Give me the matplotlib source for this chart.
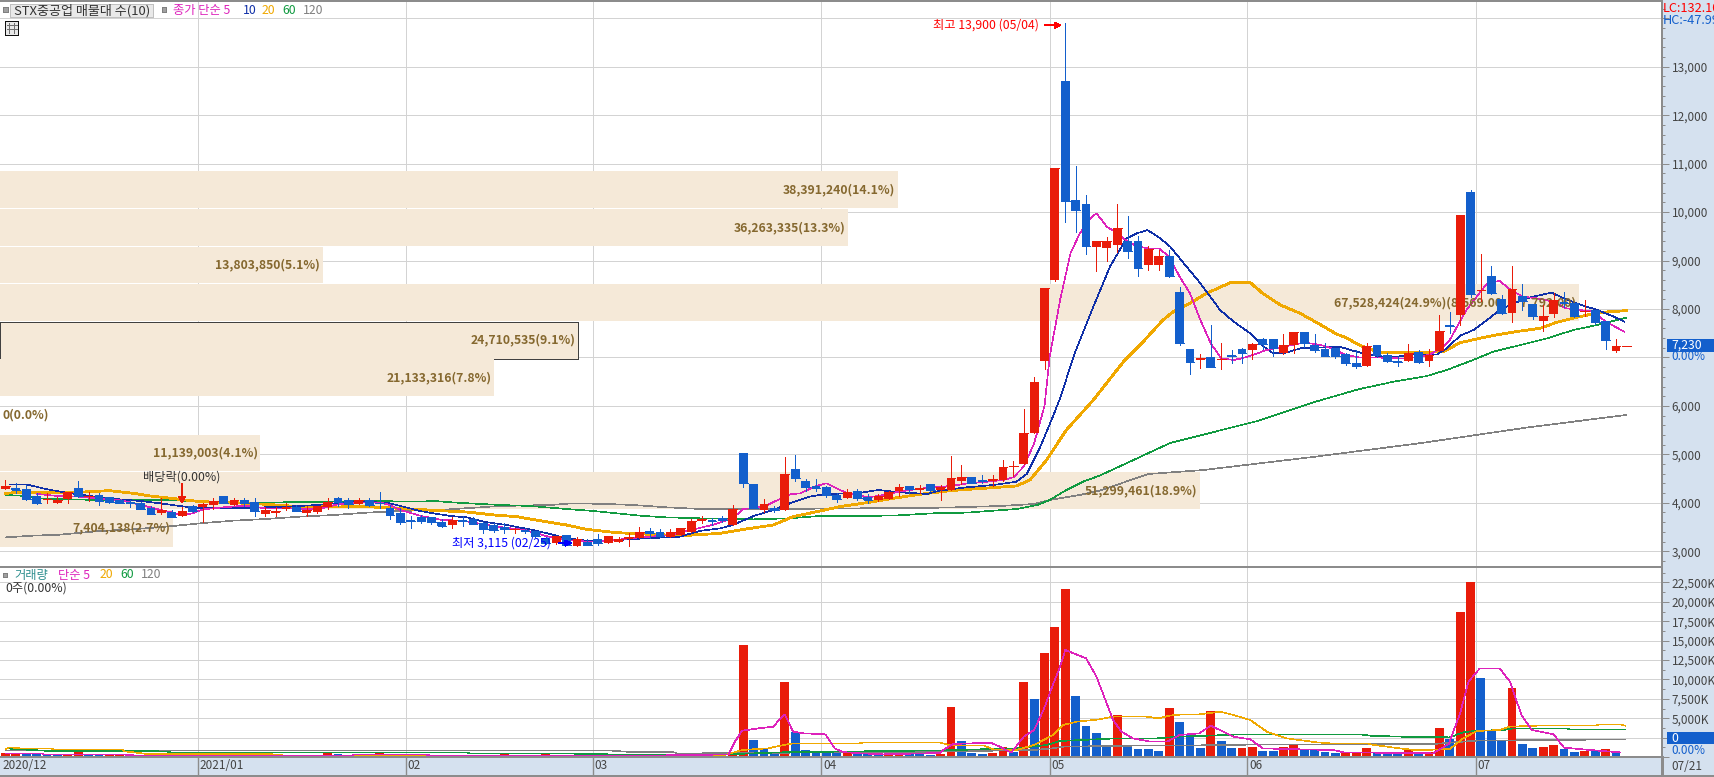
import matplotlib
matplotlib.use("Agg")
import matplotlib.pyplot as plt
from matplotlib.lines import Line2D
from matplotlib.patches import Rectangle
from matplotlib.transforms import ScaledTranslation

plt.rcParams["font.family"] = ["Noto Sans CJK KR", "DejaVu Sans"]
plt.rcParams["lines.antialiased"] = False
plt.rcParams["patch.antialiased"] = False

# candles
opens = [4285,4313,4278,4141,4072,4003,4079,4299,4127,4154,
         4113,4058,4024,3989,3893,3790,3810,3735,3934,3913,
         3955,4134,3962,4058,4024,3776,3797,3879,3913,3797,
         3810,3920,4099,4058,3982,4058,4003,3886,3783,3645,
         3707,3700,3611,3549,3645,3666,3583,3542,3494,3432,
         3446,3418,3267,3164,3329,3115,3198,3246,3178,3198,
         3260,3281,3411,3398,3301,3343,3405,3632,3639,3693,
         3549,5028,4388,3859,3886,3852,4698,4450,4347,4326,
         4161,4106,4244,4120,4058,4086,4244,4347,4258,4388,
         4264,4271,4450,4533,4464,4443,4478,4746,4801,5441,
         6934,8599,12706,10250,10167,9280,9259,9321,9404,9404,
         8908,8908,9094,8351,7175,6948,7010,6954,7051,7175,
         7154,7381,7381,7092,7257,7518,7257,7174,7202,7071,
         6879,6830,7257,7051,6927,6934,7119,6934,7133,7670,
         7883,10415,8385,8681,8206,7924,8268,8103,7759,7897,
         8151,8124,7945,7973,7746,7133,7230]
highs = [4471,4402,4368,4209,4196,4127,4223,4450,4230,4196,
         4127,4079,4058,4024,3934,4092,3852,3907,3955,4003,
         4092,4134,4106,4106,4106,3920,3920,3989,3955,3941,
         3927,4092,4120,4099,4092,4092,4223,3955,3886,3728,
         3749,3714,3659,3700,3728,3700,3611,3577,3577,3487,
         3473,3418,3301,3315,3329,3295,3246,3350,3315,3301,
         3370,3494,3473,3453,3453,3480,3659,3728,3680,3735,
         3955,5028,4388,4072,3934,4939,4987,4492,4492,4347,
         4196,4278,4285,4175,4175,4251,4388,4347,4368,4388,
         4368,4966,4780,4533,4574,4574,4884,4863,5936,6597,
         8434,10910,13900,10952,10353,9404,9486,10167,9920,9507,
         9301,9218,9218,8454,7175,7072,7670,7298,7154,7195,
         7298,7402,7381,7484,7526,7518,7484,7291,7202,7099,
         7154,7291,7257,7085,7016,7278,7154,7174,7876,7931,
         9940,10456,9128,8888,8289,8888,8516,8103,8083,8323,
         8351,8124,8186,7979,7746,7381,7230]
lows = [4285,4209,4058,3975,4003,3989,4003,4127,4044,3955,
        4003,3989,3907,3865,3769,3769,3700,3735,3810,3611,
        3872,3989,3955,3941,3735,3735,3735,3845,3824,3735,
        3783,3872,3941,3900,3982,3941,3886,3673,3570,3487,
        3590,3563,3508,3487,3522,3556,3384,3405,3370,3370,
        3370,3301,3150,3150,3130,3115,3120,3130,3164,3184,
        3116,3267,3267,3301,3288,3329,3405,3590,3542,3611,
        3542,4320,3886,3817,3817,3852,4450,4250,4236,4113,
        4024,4106,4058,3989,4044,4079,4141,4209,4196,4251,
        4058,4271,4388,4402,4416,4347,4457,4553,4801,5441,
        6755,8578,9803,9596,9135,8791,9000,9177,9053,8681,
        8805,8805,8661,7257,6658,6782,6803,6762,6885,6885,
        6968,7175,7030,7072,7092,7223,7120,7037,6996,6844,
        6789,6830,7003,6899,6830,6934,6892,6830,7133,7498,
        7670,8241,8172,8310,7897,7739,7979,7794,7546,7842,
        8048,7828,7862,7690,7174,7119,7230]
closes = [4354,4264,4079,4003,4086,4058,4223,4141,4141,4044,
          4024,4003,3989,3872,3776,3852,3707,3824,3824,3975,
          4044,3989,4058,4003,3838,3852,3824,3920,3838,3845,
          3927,4024,4024,3982,4051,3962,3989,3755,3604,3618,
          3625,3604,3522,3645,3625,3570,3467,3439,3460,3453,
          3411,3315,3164,3315,3130,3260,3130,3164,3315,3253,
          3288,3398,3370,3315,3398,3480,3625,3673,3618,3645,
          3866,4416,3900,3976,3852,4595,4519,4333,4313,4161,
          4079,4216,4099,4058,4141,4223,4326,4285,4306,4264,
          4326,4512,4533,4409,4443,4485,4739,4760,5441,6494,
          8434,10910,10229,10044,9301,9404,9404,9672,9197,8846,
          9239,9094,8681,7298,6906,6989,6803,6975,7030,7092,
          7278,7278,7195,7257,7526,7291,7154,7037,7030,6892,
          6830,7236,7058,6927,6899,7099,6913,7044,7546,7649,
          9940,8310,8399,8337,7917,8413,8172,7862,7856,8179,
          8117,7862,7966,7739,7367,7236,7230]

# traded volume in thousands, and bar colour per day
volumes = [515,430,430,430,258,258,258,690,258,258,
           258,258,170,170,170,170,130,130,215,215,
           215,170,215,215,258,170,170,130,130,130,
           130,560,344,130,170,170,560,170,170,170,
           130,130,130,130,130,130,130,130,430,130,
           130,130,430,170,170,170,130,130,170,130,
           130,386,130,130,130,170,170,130,130,130,
           644,14431,2190,1030,558,9664,3221,902,687,687,
           515,687,387,430,430,300,644,430,430,258,
           387,6442,2062,515,387,515,1288,687,9664,7473,
           13400,16750,21647,7860,3994,3092,1546,5412,1288,1030,
           1030,773,6314,4510,2964,1160,5927,2062,1160,1160,
           1288,773,773,1288,1546,945,945,644,515,558,
           558,1160,558,558,387,902,473,644,3737,2319,
           18683,22549,10179,3350,2062,8891,1675,1160,1288,1546,
           1030,644,773,773,1030,644,0]
volume_dirs = ("RRBBBBRRBB" "RRRRRRBBRR" "RBRRRBRRBR" "BRBBRBRBBB" "BBRRBBRBRB"
               "RRRBBRBBRB" "RRBBBRRBBR" "RRBBBRBBBB" "BRBBBRRBBB" "RRBBBRRBRB"
               "RRRBBBBRBB" "BBRBBBRBBR" "RBBRRBBBBR" "RRBBBRBRRB" "RRBBBRBBRR"
               "BBRBRBR")

# price moving averages: day position and value
ma5_idx = [3,5,7,9,11,13,15,17,18,19,21,23,25,27,30,32,34,36,37,38,40,42,44,46,48,50,52,54,56,58,60,62,64,66,68,70,71,73,74,75.5,76.5,78,79,80,81,82,83,84,86,88,90,91,92.6,94.5,96,97,98,99,100,100.5,101.5,102.5,103.4,104.4,105,106,107,108,109,110,111,112,113,114,115,116,117,118.2,119,120,121.4,123,125,126,127,128,129,130.4,132.3,134,135,137,138.4,139,139.7,140.6,141.6,142.6,143.8,144.8,146,147.4,149,150.2,151.5,152.8,154,155.8]
ma5_val = [4182,4141,4127,4085,4058,3955,3852,3749,3783,3865,3907,3941,3886,3886,3865,3968,4010,4010,3955,3852,3728,3645,3632,3556,3487,3439,3315,3233,3198,3212,3267,3301,3336,3439,3542,3680,3872,3920,4024,4175,4196,4347,4402,4299,4196,4168,4113,4141,4230,4292,4333,4347,4402,4436,4471,4526,4746,5228,6000,7016,8186,9149,9562,9872,9975,9700,9562,9390,9287,9252,9252,9080,8668,8324,7773,7292,6982,6948,6982,7051,7154,7223,7305,7278,7236,7154,7051,6996,6996,6982,6982,7051,7223,7360,7635,7979,8255,8530,8578,8406,8255,8220,8151,8014,7979,7945,7739,7532]
ma10_idx = [0.4,2,4,5.9,8.1,10,11.7,13,14.9,16.8,18.7,21.3,23.9,27,30,31.6,34.8,37,38.9,39.9,41.2,42.8,44.4,46,48.2,50.8,52.4,54,55.9,57.9,60.4,63,64.9,66.8,68.8,70,72,73.9,75.5,77.4,78.9,81.9,84,86.1,88.7,89.9,92.5,95.1,97.3,98.3,99.6,100.8,101.5,102.9,104.7,106.3,107.9,108.9,109.9,111,112.1,113.4,115,116.9,118.2,119.8,121.1,122,123.3,124.6,128.4,130,132.3,133.9,135.5,137.8,138.7,140,141.3,142.6,143.8,145.1,147,148.8,150,151.2,153.2,154.8,155.8]
ma10_val = [4381,4381,4278,4209,4141,4092,4058,4037,3989,3934,3886,3893,3900,3920,3955,3989,4024,3989,3886,3831,3783,3728,3700,3611,3542,3439,3356,3267,3219,3212,3253,3281,3301,3418,3473,3542,3728,3852,3989,4127,4182,4196,4264,4216,4182,4251,4319,4368,4436,4595,5159,5778,6156,7085,8048,8874,9459,9562,9631,9479,9287,8943,8530,7979,7739,7498,7223,7085,7099,7188,7223,7119,7016,7016,7064,7064,7188,7450,7567,7773,7979,8117,8255,8337,8220,8117,7979,7842,7739]
ma20_idx = [0,1.4,4.3,7.5,10,12.3,13.9,16.5,18.7,21.9,25.1,28.3,31.6,33.8,36.4,38.9,41.8,44.4,47,49.2,51.4,54,55.9,58.8,62,65.2,68.8,71.7,73.9,75.8,78.1,80.3,82.9,85.4,88,90.9,94.1,97.3,98.6,100.2,102.1,104.7,107.6,109.5,111.4,112.4,113.7,115.6,117.9,119.8,121,122.7,124.6,126.5,128.1,129,130.5,132.3,136,138.4,139,140,141.9,143.8,145.8,147.7,149.3,151.5,153.5,156]
ma20_val = [4196,4216,4216,4223,4251,4196,4141,4079,4024,4003,3969,3920,3913,3920,3907,3872,3838,3810,3749,3714,3632,3542,3453,3384,3350,3322,3370,3473,3542,3714,3817,3920,4003,4092,4175,4251,4299,4347,4471,4884,5503,6122,6913,7326,7773,7945,8083,8324,8544,8544,8324,8083,7911,7684,7484,7408,7236,7099,7099,7119,7188,7305,7395,7477,7546,7601,7725,7842,7931,7966]
ma60_idx = [0,1.4,3.3,5.9,9.1,12.3,15.5,18.7,21.9,26.7,31.6,34.8,39.9,41.2,43.4,47.6,50.5,52.4,54,56.6,58.8,61.4,63.6,66.8,72,75.5,78.4,85.4,89.3,92.5,97.3,99.3,100.5,102.1,103.7,105.3,112.1,120.5,125.8,130.2,133.6,136.8,138.7,141,143.2,145.8,148.4,150.9,153.2,156]
ma60_val = [4161,4147,4092,4072,4058,4065,4058,4024,4003,4010,4024,4037,4024,4038,4003,3955,3934,3900,3872,3831,3783,3728,3700,3680,3659,3680,3728,3735,3783,3797,3872,3955,4058,4264,4436,4560,5235,5689,6069,6342,6500,6617,6741,6927,7119,7257,7395,7567,7670,7821]
ma120_idx = [0,2.7,5.2,9.1,12.3,15.5,18.7,21.9,25.1,28.3,31.6,34.8,38,41.8,47.6,52.4,54.6,57.9,60.4,63.6,67.5,72,78.1,90.3,95.7,99,100.5,103.4,105.3,110,115.3,125.8,136.3,146.8,156]
ma120_val = [3287,3322,3342,3418,3453,3508,3576,3631,3666,3714,3748,3797,3831,3852,3934,3955,3989,3976,3955,3907,3866,3866,3879,3900,3934,3975,4058,4161,4251,4594,4677,4945,5235,5565,5812]

# volume moving averages
vma5_idx = [0,3.5,3.6,11.5,12.3,33.4,33.5,40.5,41,60,66.8,69.6,70.2,70.9,72.5,73.9,74.6,75,75.8,76.8,78.9,79.8,80.6,82.2,84.5,89.9,90.4,91.2,94.8,95.7,96.8,98,99,99.9,100.8,101.5,102,104,105,105.8,106.6,107.4,108.5,110.2,111.8,113,114.9,116,118.2,119.8,121,123,127.8,128.8,137.4,138.9,140,140.8,141.9,143.8,144.8,145.9,146.9,149,150,152.5,155.4]
vma5_val = [472,472,344,300,215,215,344,300,172,172,258,344,1976,3393,3694,3908,4982,5498,3264,3049,2921,1117,644,472,344,515,1031,1675,1847,1331,558,2620,3479,6056,9277,11639,13787,12713,10351,7559,4767,3264,2405,1976,1976,2835,3049,4037,2620,2276,1117,1031,902,601,472,1675,5626,9707,11425,11425,9707,5412,3479,2921,1203,902,601]
vma20_idx = [0,0.4,1.4,4.3,4.6,11.2,11.4,12.3,13.6,26.4,26.7,47.6,58,69,70.9,73.4,74.6,75.8,82.2,82.6,89.9,90.9,94.1,95.1,97.3,99,100.8,101.8,103.1,105.3,106.6,109.8,111,112,113.3,114.9,116.9,118.2,119.8,121.4,123.3,126.2,127.5,131,131.7,134.2,135.8,139,140.3,141.6,143.8,144.8,147.4,153,153.4,155.4,155.9]
vma20_val = [988,1246,1117,1117,988,988,730,601,387,344,172,172,172,172,902,1117,1460,1761,1761,1890,1890,1503,1503,988,902,1546,2835,4123,4553,4853,5197,5197,4982,5326,5498,5498,5841,5412,4767,3264,2405,1890,1761,1761,1546,1117,859,1031,2405,3350,3479,3908,4037,4037,4209,4209,4037]
vma60_idx = [0,1.4,4.3,15.5,15.9,44.4,44.7,53,58,66.8,70.4,74.6,90.3,97.3,100.2,101.5,106.3,110.8,113,114.9,119.1,130.4,131.3,134.2,139,140.3,141.6,144.2,145.1,150.3,150.5,155.9]
vma60_val = [1117,988,773,730,601,601,472,472,344,172,387,601,859,1117,1546,2062,2362,2405,2620,2706,2921,2921,2749,2620,2534,3178,3393,3479,3694,3694,3565,3565]
vma120_idx = [0,47.6,58,59.6,64.5,64.6,66.8,89.3,99,100.8,101.8,108.5,114.9,119.5,137.4,140.3,141.6,155.9]
vma120_val = [859,816,860,687,600,472,472,687,902,1117,1331,1460,1503,1589,1675,1976,2105,2276]

# volume profile rows, top to bottom
vp_volumes = [38391240,36263335,13803850,67528424,24710535,21133316,0,11139003,51299461,7404138]
vp_labels = ["38,391,240(14.1%)","36,263,335(13.3%)","13,803,850(5.1%)",
             "67,528,424(24.9%)(8,569.00  ~  7,792.00)","24,710,535(9.1%)","21,133,316(7.8%)",
             "0(0.0%)","11,139,003(4.1%)","51,299,461(18.9%)","7,404,138(2.7%)"]
vp_top = 10849
vp_step = 776.1

price_ticks = list(range(3000, 14001, 1000))
volume_ticks = list(range(0, 22501, 2500))
month_starts = [0, 19, 39, 57, 79, 101, 120, 142]
month_labels = ["2020/12", "2021/01", "02", "03", "04", "05", "06", "07"]

W, H = 1715, 777
RED = "#E91C0A"
BLUE = "#135FCC"
BAND = "#D5E1EF"
GRID = "#D3D3D3"
EDGE = "#8C8C8C"
PX = 0.72
THIN = 0.45

def fx(x):
    return x / W

def fy(y):
    return 1 - y / H

def box(left, top, right, bottom):
    return [fx(left), fy(bottom), (right - left) / W, (bottom - top) / H]

def fig_text(x, y, s, color="#333333", size=9, **kw):
    fig.text(fx(x), fy(y), s, color=color, fontsize=size, va="center", zorder=8, **kw)

def fig_rect(left, top, right, bottom, face, edge="none", z=6):
    fig.add_artist(Rectangle((fx(left), fy(bottom)), (right - left) / W, (bottom - top) / H,
                             transform=fig.transFigure, facecolor=face, edgecolor=edge,
                             linewidth=PX, zorder=z))

fig = plt.figure(figsize=(W / 100, H / 100), dpi=100, facecolor=BAND)
ax = fig.add_axes(box(0, 1, 1662, 567))
axv = fig.add_axes(box(0, 567, 1662, 757))

xmin, xmax = -0.529, 159.43
for a in (ax, axv):
    a.set_xlim(xmin, xmax)
    a.set_facecolor("white")
    a.set_axisbelow(True)
    a.grid(True, color=GRID, linewidth=PX)
    for s in a.spines.values():
        s.set_color(EDGE)
        s.set_linewidth(1.1)
    a.spines["left"].set_visible(False)
    a.yaxis.tick_right()
    a.set_xticks([m - 0.5 for m in month_starts])
    a.get_xgridlines()[0].set_visible(False)
    a.tick_params(axis="y", which="major", length=5, width=PX, color=EDGE, pad=2,
                  labelcolor="#444444", labelsize=8.5)
    a.tick_params(axis="y", which="minor", length=2, width=PX, color=EDGE)

# 7,000 and 2,500K sit under the read-outs on the right axis
ax.set_ylim(2675, 14357)
ax.set_yticks(price_ticks)
ax.set_yticks(range(2800, 14300, 200), minor=True)
ax.set_yticklabels([f"{t:,}" if t not in (7000, 14000) else "" for t in price_ticks])
ax.tick_params(axis="x", length=0, labelbottom=False)

axv.set_ylim(0, 24485)
axv.set_yticks(volume_ticks)
axv.set_yticks(range(0, 24000, 1250), minor=True)
axv.set_yticklabels([f"{t:,}K" if t not in (0, 2500) else "" for t in volume_ticks])
axv.set_xticklabels(month_labels, ha="left", color="#444444", fontsize=8.5)
axv.tick_params(axis="x", length=14, width=1, color=EDGE, pad=-12.5)
axv.xaxis.get_major_ticks()[0].tick1line.set_visible(False)
shift = ScaledTranslation(2 / 100, 0, fig.dpi_scale_trans)
for lbl in axv.get_xticklabels():
    lbl.set_transform(lbl.get_transform() + shift)

# volume profile
vp_scale = (1579 / 10.39) / 67528424
for i, (vol, label) in enumerate(zip(vp_volumes, vp_labels)):
    mid = vp_top - vp_step * (i + 0.5)
    width = vol * vp_scale
    edge = "#404040" if i == 4 else "none"
    ax.barh(mid, width, left=xmin, height=vp_step * 0.975, color="#F5E9D8",
            edgecolor=edge, linewidth=PX, zorder=1)
    if vol:
        ax.text(xmin + width - 0.25, mid, label, ha="right", va="center", fontsize=8.8,
                color="#85682F", fontweight="bold", zorder=2.5)
    else:
        ax.text(xmin + 0.2, mid, label, ha="left", va="center", fontsize=8.8,
                color="#85682F", fontweight="bold", zorder=2.5)

# price moving averages
ax.plot(ma120_idx, ma120_val, color="#808080", lw=THIN, zorder=2)
ax.plot(ma60_idx, ma60_val, color="#109A40", lw=THIN, zorder=2)
ax.plot(ma20_idx, ma20_val, color="#F0A800", lw=1.3, zorder=2)
ax.plot(ma10_idx, ma10_val, color="#1030A8", lw=THIN, zorder=2)
ax.plot(ma5_idx, ma5_val, color="#DD22BB", lw=THIN, zorder=2)

# candles
idx = list(range(len(opens)))
cols = [RED if c >= o else BLUE for o, c in zip(opens, closes)]
ax.vlines(idx, lows, highs, colors=cols, linewidth=0.6, zorder=3)
ax.bar(idx, [abs(c - o) for o, c in zip(opens, closes)], bottom=[min(o, c) for o, c in zip(opens, closes)],
       width=0.85, color=cols, linewidth=0, zorder=3)
ax.hlines(closes, [i - 0.42 for i in idx], [i + 0.42 for i in idx], colors=cols, linewidth=0.6, zorder=3)

# annotations on the price panel
ax.text(99.5, 13860, "최고 13,900 (05/04)", color="#FF0000", ha="right", va="center", fontsize=8.8, zorder=5)
ax.annotate("", xy=(101.6, 13860), xytext=(100, 13860), zorder=5,
            arrowprops=dict(arrowstyle="-|>", color="#FF0000", lw=0.8, shrinkA=0, shrinkB=0, mutation_scale=9))
ax.text(52.5, 3170, "최저 3,115 (02/25)", color="#0000FF", ha="right", va="center", fontsize=8.8, zorder=5)
ax.annotate("", xy=(54.5, 3170), xytext=(53.3, 3170), zorder=5,
            arrowprops=dict(arrowstyle="-|>", color="#0000FF", lw=0.8, shrinkA=0, shrinkB=0, mutation_scale=9))
ax.text(17, 4540, "배당락(0.00%)", color="#333333", ha="center", va="center", fontsize=8.8, zorder=5)
ax.annotate("", xy=(17, 3985), xytext=(17, 4380), zorder=5,
            arrowprops=dict(arrowstyle="-|>", color=RED, lw=0.8, shrinkA=0, shrinkB=0, mutation_scale=10))

# volume bars and averages
axv.bar(idx, volumes, width=0.85, color=[RED if d == "R" else BLUE for d in volume_dirs], linewidth=0, zorder=2)
axv.plot(vma120_idx, vma120_val, color="#808080", lw=THIN, zorder=3)
axv.plot(vma60_idx, vma60_val, color="#109A40", lw=THIN, zorder=3)
axv.plot(vma20_idx, vma20_val, color="#F0A800", lw=THIN, zorder=3)
axv.plot(vma5_idx, vma5_val, color="#DD22BB", lw=THIN, zorder=3)

# header legends
fig_rect(3, 7, 8, 12, "#A0A0A0", "#808080")
fig_rect(10.5, 3.5, 153.5, 17, "#E9E9E9", "#C0C0C0")
fig_text(14, 10.5, "STX중공업 매물대 수(10)", size=9.4)
fig_rect(162, 7, 166, 12, "#A0A0A0", "#808080")
fig_text(173, 10.5, "종가 단순 5", color="#DD22BB", size=8.8)
fig_text(243, 10.5, "10", color="#1030A8", size=8.8)
fig_text(262, 10.5, "20", color="#F0A800", size=8.8)
fig_text(282, 10.5, "60", color="#109A40", size=8.8)
fig_text(303, 10.5, "120", color="#808080", size=8.8)
fig_rect(5.5, 21.5, 18.5, 34.5, "#E8E8E8", "#101010")
for gx in (9.5, 14):
    fig.add_artist(Line2D([fx(gx), fx(gx)], [fy(23), fy(33)], color="#707070", lw=PX, zorder=7))
for gy in (25, 29):
    fig.add_artist(Line2D([fx(7), fx(17)], [fy(gy), fy(gy)], color="#707070", lw=PX, zorder=7))

fig_rect(3, 573, 7, 577, "#A0A0A0", "#808080")
fig_text(14, 575, "거래량", color="#2E8F8F", size=8.8)
fig_text(58, 575, "단순 5", color="#DD22BB", size=8.8)
fig_text(100, 575, "20", color="#F0A800", size=8.8)
fig_text(120, 575, "60", color="#109A40", size=8.8)
fig_text(141, 575, "120", color="#808080", size=8.8)
fig_text(5, 588, "0주(0.00%)", size=8.8)

# right axis read-outs, the two top ones run off the picture as in the source
fig_text(1663, 9, "LC:132.10%", color="#FF0000", size=9.2)
fig_text(1663, 21, "HC:-47.99%", color=BLUE, size=9.2)
fig_rect(1667, 339, 1715, 352, BLUE)
fig_text(1671, 345.5, "7,230", color="white", size=8.8)
fig_text(1671, 357, "0.00%", color=BLUE, size=8.5)
fig_rect(1667, 732, 1715, 744, BLUE)
fig_text(1671, 738, "0", color="white", size=8.8)
fig_text(1671, 750, "0.00%", color=BLUE, size=8.5)
fig_text(1671, 766.5, "07/21", color="#444444", size=8.5)

# frame bits of the date band
fig.add_artist(Line2D([fx(1662), fx(1662)], [fy(757), fy(777)], color=EDGE, lw=1, zorder=7))
fig.add_artist(Line2D([0, 1], [fy(776.3), fy(776.3)], color=EDGE, lw=1.1, zorder=7))

fig.savefig("out.png", dpi=100, facecolor=BAND)
